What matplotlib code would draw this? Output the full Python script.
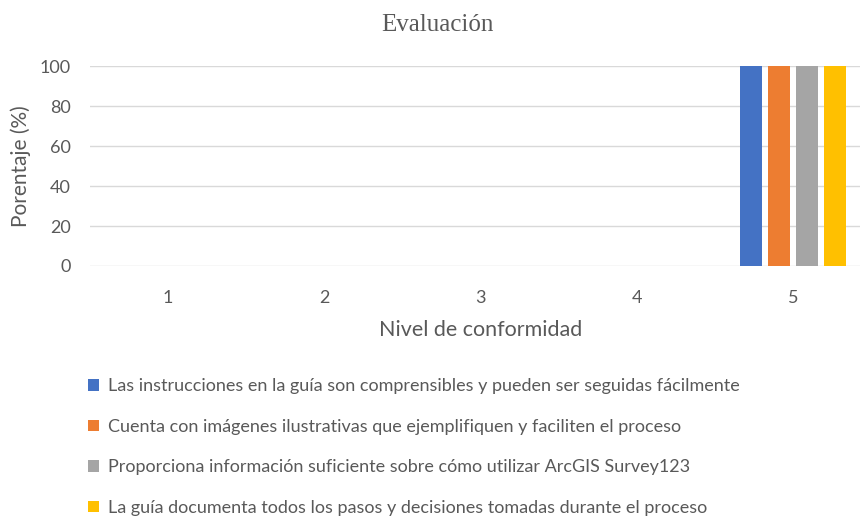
import numpy as np
import matplotlib.pyplot as plt

niveles = ['1', '2', '3', '4', '5']
series = [
    'Las instrucciones en la guía son comprensibles y pueden ser seguidas fácilmente',
    'Cuenta con imágenes ilustrativas que ejemplifiquen y faciliten el proceso',
    'Proporciona información suficiente sobre cómo utilizar ArcGIS Survey123',
    'La guía documenta todos los pasos y decisiones tomadas durante el proceso',
]
valores = [
    [0, 0, 0, 0, 100],
    [0, 0, 0, 0, 100],
    [0, 0, 0, 0, 100],
    [0, 0, 0, 0, 100],
]
colores = ['#4472C4', '#ED7D31', '#A5A5A5', '#FFC000']

plt.rcParams['font.family'] = ['Lato', 'DejaVu Sans']
gris = '#595959'

fig = plt.figure(figsize=(8.6, 5.17), dpi=100)
# the plot area runs a little past the right edge, as in the original
ax = fig.add_axes([90 / 860, 1 - 266 / 517, 781 / 860, 200 / 517])

x = np.arange(len(niveles))
ancho = 0.141
paso = 0.179
for i, (nombre, vals, c) in enumerate(zip(series, valores, colores)):
    ax.bar(x + (i - 1.5) * paso, vals, ancho, color=c, label=nombre, zorder=3)

ax.set_xlim(-0.5, len(niveles) - 0.5)
ax.set_ylim(0, 100)
ax.set_yticks(range(0, 101, 20))
ax.set_xticks(x)
ax.set_xticklabels(niveles)
ax.grid(axis='y', color='#D9D9D9', linewidth=1, zorder=0)
for s in ax.spines.values():
    s.set_visible(False)
ax.tick_params(length=0, labelsize=13, colors=gris)
ax.tick_params(axis='y', pad=14)
ax.tick_params(axis='x', pad=17)
ax.set_ylabel('Porentaje (%)', fontsize=15, color=gris, labelpad=6)
ax.set_xlabel('Nivel de conformidad', fontsize=15.5, color=gris, labelpad=10)

fig.text(437 / 860, 1 - 25 / 517, 'Evaluación', ha='center', va='center',
         fontsize=18, color=gris, family='Liberation Serif')

handles, labels = ax.get_legend_handles_labels()
fig.legend(handles, labels, loc='upper left', bbox_to_anchor=(72 / 860, 1 - 362 / 517),
           frameon=False, fontsize=13, labelcolor=gris, handlelength=0.6,
           handleheight=0.6, handletextpad=0.5, labelspacing=1.36)

fig.savefig('out.png', dpi=100)
